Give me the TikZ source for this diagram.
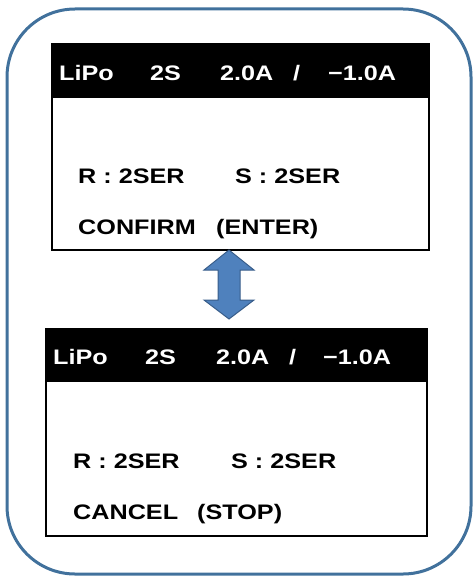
\documentclass[tikz,border=0pt]{standalone}
\usepackage{fontspec}
\setmainfont{Liberation Sans}
\usetikzlibrary{calc}
\definecolor{frameblue}{HTML}{41719C}
\definecolor{arrowfill}{HTML}{4F81BD}
\definecolor{arrowline}{HTML}{385D8A}
\newcommand{\wtxt}[1]{\scalebox{1.2}[1]{#1}}
\begin{document}
\begin{tikzpicture}[x=1pt,y=-1pt,
  txt/.style={anchor=base west,inner sep=0pt,font=\fontsize{21}{24}\selectfont\bfseries},
  hdr/.style={txt,text=white},
  screen/.style={draw=black,line width=1.4pt,fill=white},
  band/.style={fill=black,draw=black,line width=1.4pt}]
\useasboundingbox (0,0) rectangle (474,577);
% outer frame
\draw[frameblue,line width=3pt,rounded corners=68pt] (7,9) rectangle (471,574);
% top screen
\draw[screen] (52,44) rectangle (429,250);
\draw[band] (52,44) rectangle (429,97);
\coordinate (topbot) at (229,250);
\node[hdr] (h1a) at (59,81) {\wtxt{LiPo}};
\node[hdr] (h1b) at (150,81) {\wtxt{2S}};
\node[hdr] (h1c) at (220,81) {\wtxt{2.0A}};
\node[hdr] (h1d) at (293,81) {\wtxt{/}};
\node[hdr] (h1e) at (328,81) {\wtxt{−1.0A}};
\node[txt] (r1) at (78,183) {\wtxt{R : 2SER}};
\node[txt] (s1) at (235,183) {\wtxt{S : 2SER}};
\node[txt] (c1) at (78,234) {\wtxt{CONFIRM}};
\node[txt] (e1) at (216,234) {\wtxt{(ENTER)}};
% bottom screen
\draw[screen] (46,329) rectangle (427,536);
\draw[band] (46,329) rectangle (427,381);
\coordinate (bottop) at (229,319);
\node[hdr] (h2a) at (53,364) {\wtxt{LiPo}};
\node[hdr] (h2b) at (145,364) {\wtxt{2S}};
\node[hdr] (h2c) at (216,364) {\wtxt{2.0A}};
\node[hdr] (h2d) at (289,364) {\wtxt{/}};
\node[hdr] (h2e) at (323,364) {\wtxt{−1.0A}};
\node[txt] (r2) at (73,468) {\wtxt{R : 2SER}};
\node[txt] (s2) at (231,468) {\wtxt{S : 2SER}};
\node[txt] (c2) at (73,519) {\wtxt{CANCEL}};
\node[txt] (e2) at (197,519) {\wtxt{(STOP)}};
% double arrow
\draw[fill=arrowfill,draw=arrowline,line width=1pt,line join=miter]
  (topbot) -- ++(25,20) -- ++(-14,0) -- ++(0,30) -- ++(14,0)
  -- (bottop) -- ++(-25,-19) -- ++(14,0) -- ++(0,-30) -- ++(-14,0) -- cycle;
\end{tikzpicture}
\end{document}
